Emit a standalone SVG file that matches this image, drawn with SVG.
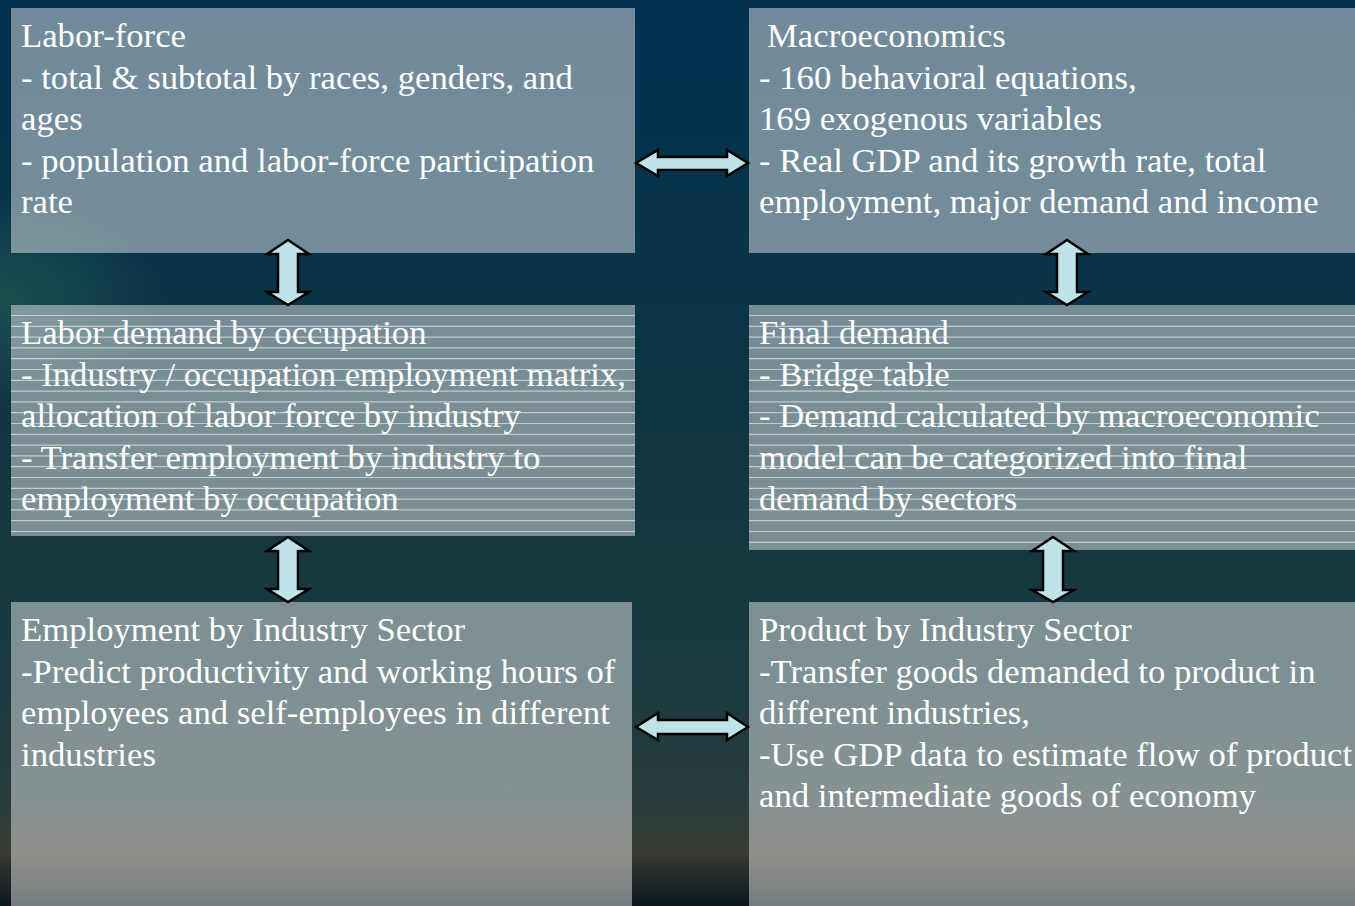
<svg xmlns="http://www.w3.org/2000/svg" width="1355" height="906" viewBox="0 0 1355 906">
  <defs>
    <linearGradient id="sky" x1="0" y1="0" x2="0" y2="1">
      <stop offset="0" stop-color="#03304f"/>
      <stop offset="0.25" stop-color="#08334a"/>
      <stop offset="0.5" stop-color="#123641"/>
      <stop offset="0.75" stop-color="#1a3a40"/>
      <stop offset="0.9" stop-color="#2a3c3c"/>
      <stop offset="0.94" stop-color="#3a3a30"/>
      <stop offset="1" stop-color="#0a1820"/>
    </linearGradient>
    <radialGradient id="glow" cx="0" cy="0.33" r="0.12">
      <stop offset="0" stop-color="#2d6a5a" stop-opacity="0.5"/>
      <stop offset="1" stop-color="#2d6a5a" stop-opacity="0"/>
    </radialGradient>
    <style>
      .panel { fill: #ffffff; fill-opacity: 0.44; }
      .rules { stroke: #ffffff; stroke-opacity: 0.55; stroke-width: 1.2; fill: none; }
      .label { font-family: "Liberation Serif", "Times New Roman", serif; font-size: 34.7px; fill: #ffffff; }
      .arrow { fill: #bde3e6; stroke: #000000; stroke-width: 2.5; stroke-linejoin: miter; }
    </style>
  </defs>

  <!-- backdrop -->
  <rect x="0" y="0" width="1355" height="906" fill="url(#sky)"/>
  <rect x="0" y="0" width="1355" height="906" fill="url(#glow)"/>

  <!-- Labor-force -->
  <g id="labor-force">
    <rect class="panel" x="11" y="8" width="624" height="245"/>
    <text class="label">
      <tspan x="21" y="47">Labor-force</tspan>
      <tspan x="21" y="88.5">- total &amp; subtotal by races, genders, and</tspan>
      <tspan x="21" y="130">ages</tspan>
      <tspan x="21" y="171.5">- population and labor-force participation</tspan>
      <tspan x="21" y="213">rate</tspan>
    </text>
  </g>

  <!-- Macroeconomics -->
  <g id="macroeconomics">
    <rect class="panel" x="749" y="8" width="606" height="245"/>
    <text class="label">
      <tspan x="767" y="47">Macroeconomics</tspan>
      <tspan x="759" y="88.5">- 160 behavioral equations,</tspan>
      <tspan x="759" y="130">169 exogenous variables</tspan>
      <tspan x="759" y="171.5">- Real GDP and its growth rate, total</tspan>
      <tspan x="759" y="213">employment, major demand and income</tspan>
    </text>
  </g>

  <!-- Labor demand by occupation -->
  <g id="labor-demand">
    <rect class="panel" x="11" y="305" width="624" height="231"/>
    <path class="rules" d="M11 315.5H635M11 326.3H635M11 337.1H635M11 347.9H635M11 358.7H635M11 369.5H635M11 380.3H635M11 391.1H635M11 401.9H635M11 412.7H635M11 423.5H635M11 434.3H635M11 445.1H635M11 455.9H635M11 466.7H635M11 477.5H635M11 488.3H635M11 499.1H635M11 509.9H635M11 520.7H635M11 531.5H635"/>
    <text class="label">
      <tspan x="21" y="344">Labor demand by occupation</tspan>
      <tspan x="21" y="385.5">- Industry / occupation employment matrix,</tspan>
      <tspan x="21" y="427">allocation of labor force by industry</tspan>
      <tspan x="21" y="468.5">- Transfer employment by industry to</tspan>
      <tspan x="21" y="510">employment by occupation</tspan>
    </text>
  </g>

  <!-- Final demand -->
  <g id="final-demand">
    <rect class="panel" x="749" y="305" width="606" height="245"/>
    <path class="rules" d="M749 315.5H1355M749 326.3H1355M749 337.1H1355M749 347.9H1355M749 358.7H1355M749 369.5H1355M749 380.3H1355M749 391.1H1355M749 401.9H1355M749 412.7H1355M749 423.5H1355M749 434.3H1355M749 445.1H1355M749 455.9H1355M749 466.7H1355M749 477.5H1355M749 488.3H1355M749 499.1H1355M749 509.9H1355M749 520.7H1355M749 531.5H1355M749 542.3H1355"/>
    <text class="label">
      <tspan x="759" y="344">Final demand</tspan>
      <tspan x="759" y="385.5">- Bridge table</tspan>
      <tspan x="759" y="427">- Demand calculated by macroeconomic</tspan>
      <tspan x="759" y="468.5">model can be categorized into final</tspan>
      <tspan x="759" y="510">demand by sectors</tspan>
    </text>
  </g>

  <!-- Employment by Industry Sector -->
  <g id="employment-by-industry">
    <rect class="panel" x="11" y="602" width="621" height="304"/>
    <text class="label">
      <tspan x="21" y="641">Employment by Industry Sector</tspan>
      <tspan x="21" y="682.5">-Predict productivity and working hours of</tspan>
      <tspan x="21" y="724">employees and self-employees in different</tspan>
      <tspan x="21" y="765.5">industries</tspan>
    </text>
  </g>

  <!-- Product by Industry Sector -->
  <g id="product-by-industry">
    <rect class="panel" x="749" y="602" width="606" height="304"/>
    <text class="label">
      <tspan x="759" y="641">Product by Industry Sector</tspan>
      <tspan x="759" y="682.5">-Transfer goods demanded to product in</tspan>
      <tspan x="759" y="724">different industries,</tspan>
      <tspan x="759" y="765.5">-Use GDP data to estimate flow of product</tspan>
      <tspan x="759" y="807">and intermediate goods of economy</tspan>
    </text>
  </g>

  <!-- two-way block arrows between panels -->
  <g id="connectors">
    <path class="arrow" d="M636 163L658 150V157H727V150L748 163L727 176V170H658V176Z"/>
    <path class="arrow" d="M636 727L658 713V720H727V713L748 727L727 740V734H658V740Z"/>
    <path class="arrow" d="M288 240L309 254H298V292H309L288 305L267 292H278V254H267Z"/>
    <path class="arrow" d="M288 537L309 551H298V589H309L288 602L267 589H278V551H267Z"/>
    <path class="arrow" d="M1067 240L1088 254H1077V292H1088L1067 305L1046 292H1057V254H1046Z"/>
    <path class="arrow" d="M1053 537L1074 551H1063V590H1074L1053 602L1032 590H1043V551H1032Z"/>
  </g>
</svg>
